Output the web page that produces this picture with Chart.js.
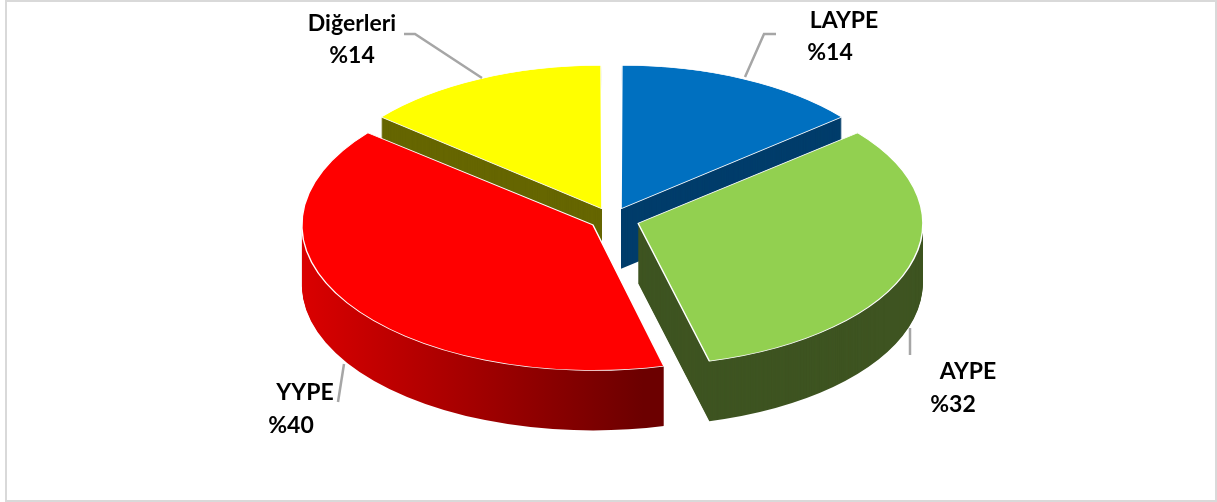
<!DOCTYPE html>
<html>
<head>
<meta charset="utf-8">
<script src="https://cdn.jsdelivr.net/npm/chart.js@4"></script>
<style>
  html, body { margin: 0; padding: 0; background: #fff; }
  #wrap { position: relative; width: 1217px; height: 502px; }
  #frame { position: absolute; left: 5px; top: 0; width: 1208px; height: 498px; border: 2px solid #d9d9d9; }
</style>
</head>
<body>
<div id="wrap">
  <div id="frame"></div>
  <canvas id="myChart" width="1217" height="502"></canvas>
</div>
<script>
let categories = ['LAYPE', 'AYPE', 'YYPE', 'Diğerleri'];
let shares = [14, 32, 40, 14];
let percentLabels = ['%14', '%32', '%40', '%14'];
let topColors = ['#0070C0', '#92D050', '#FF0000', '#FFFF00'];
let sideColors = ['#003D6B', '#3E5421', null, '#666600'];
let explode = [90, 112, 88, 90];

// back slices first, so the front ones cover their sides
let paintOrder = [3, 0, 2, 1];
let tilt = 0.5;
let depth = 60;

// x, y for the name and the percent, then the leader line
let callouts = [
    { name: [844, 21], pct: [830, 53], line: [[745, 77], [764, 34], [776, 34]] },
    { name: [968, 372], pct: [953, 405], line: [[910, 328], [910, 355]] },
    { name: [305, 393], pct: [291, 426], line: [[344, 364], [338, 402]] },
    { name: [352, 24], pct: [352, 56], line: [[404, 34], [415, 34], [482, 78]] }
];

function drawWith(ctx, arc, fill, border) {
    let saved = arc.options;
    arc.options = Object.assign({}, saved, { backgroundColor: fill, borderWidth: border });
    arc.draw(ctx);
    arc.options = saved;
}

let pie3d = {
    id: 'pie3d',
    beforeDatasetDraw(chart, args) {
        let ctx = chart.ctx;
        let arcs = args.meta.data;
        let cy = arcs[0].y;

        let redSide = ctx.createLinearGradient(302, 0, 662, 0);
        redSide.addColorStop(0, '#E00000');
        redSide.addColorStop(1, '#6C0000');

        ctx.save();
        ctx.translate(0, cy);
        ctx.scale(1, tilt);
        ctx.translate(0, -cy);
        paintOrder.forEach(function (i) {
            for (let d = depth; d > 0; d--) {
                ctx.save();
                ctx.translate(0, d / tilt);
                drawWith(ctx, arcs[i], sideColors[i] || redSide, 0);
                ctx.restore();
            }
            drawWith(ctx, arcs[i], topColors[i], 1.5);
        });
        ctx.restore();
        return false;
    },
    afterDraw(chart) {
        let ctx = chart.ctx;
        ctx.save();
        ctx.strokeStyle = '#A6A6A6';
        ctx.lineWidth = 2.5;
        ctx.fillStyle = '#000';
        ctx.font = 'bold 23px Lato';
        ctx.textAlign = 'center';
        ctx.textBaseline = 'middle';
        categories.forEach(function (name, i) {
            let c = callouts[i];
            ctx.beginPath();
            c.line.forEach(function (p, k) {
                if (k === 0) ctx.moveTo(p[0], p[1]);
                else ctx.lineTo(p[0], p[1]);
            });
            ctx.stroke();
            ctx.fillText(name, c.name[0], c.name[1]);
            ctx.fillText(percentLabels[i], c.pct[0], c.pct[1]);
        });
        ctx.restore();
    }
};

let chart = new Chart(document.getElementById('myChart').getContext('2d'), {
    type: 'pie',
    data: {
        labels: categories,
        datasets: [{
            data: shares,
            backgroundColor: topColors,
            borderColor: '#FFFFFF',
            borderWidth: 0,
            offset: explode
        }]
    },
    options: {
        responsive: false,
        animation: false,
        events: [],
        radius: 282,
        layout: { padding: { left: 6, bottom: 64 } },
        plugins: { legend: { display: false }, tooltip: { enabled: false } }
    },
    plugins: [pie3d]
});
</script>
</body>
</html>
